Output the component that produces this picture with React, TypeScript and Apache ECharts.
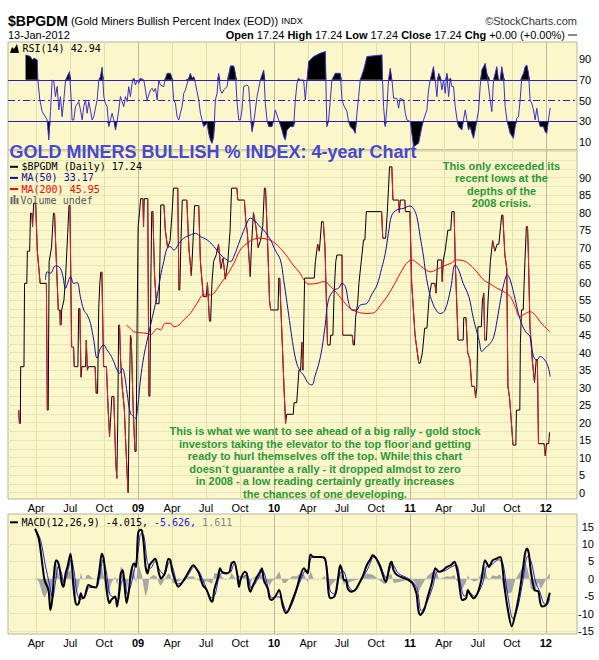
import React, { useEffect, useRef } from "react";
import * as echarts from "echarts";

// x values are months counted from Jan 2008 (12 = Jan 2009, 48 = Jan 2012)
const bpgdm: [number, number][] = [
  [1.45,23.6],[1.52,19.8],[1.6,19.8],[1.63,36],[1.92,36],[1.97,59.8],[2.17,59.8],[2.22,69],[2.42,69],[2.5,79.8],[2.62,79.8],[2.68,76],[2.78,82.7],[2.95,82.7],[3.1,69],[3.35,59.8],[3.9,59.8],[3.98,23.6],[4.06,23.6],[4.14,66],[4.35,70],[4.52,79.8],[4.62,79.8],[4.78,66],[4.95,52.2],[5.08,52.2],[5.12,47.9],[5.2,47.9],[5.25,52.2],[5.45,55],[5.6,62],[5.78,74],[5.9,82.1],[5.98,82.1],[6.13,41.6],[6.3,41.6],[6.36,36],[6.68,36],[6.75,52.6],[6.85,52.6],[6.96,33],[7.03,36],[7.36,36],[7.42,43.6],[7.52,35],[7.62,36],[8.2,36],[8.3,28.4],[8.42,28.4],[8.52,52.6],[8.62,60],[8.7,63],[8.8,63],[8.95,36],[9.2,36],[9.35,24],[9.48,16],[9.55,20],[9.68,27.5],[9.85,27.5],[10.02,9],[10.12,4.1],[10.2,20],[10.28,47.9],[10.36,47.9],[10.45,38],[10.6,30],[10.78,24],[10.92,13],[11.05,4],[11.12,0],[11.22,26],[11.32,45],[11.4,43.6],[11.55,25],[11.72,11.8],[11.82,11.8],[11.9,45],[12.0,76],
  [12.12,80],[12.22,84],[12.42,84],[12.48,76],[12.54,84],[12.85,84],[12.95,27.6],[13.04,27.6],[13.12,60],[13.2,80.3],[13.3,80.3],[13.45,62],[13.62,54],[13.85,54],[13.92,66],[14.0,82.2],[14.28,82.2],[14.4,75],[14.6,70],[14.82,72],[15.0,80],[15.12,87],[15.5,87],[15.6,57.9],[15.68,57.9],[15.78,72],[15.9,83.6],[16.3,83.6],[16.48,70],[16.7,62],[16.88,74],[16.98,82],[17.35,82],[17.5,66],[17.75,56],[18.02,56],[18.12,60],[18.3,49],[18.4,49],[18.52,60],[18.66,66],[18.9,68],[19.1,71],[19.3,64],[19.5,67],[19.7,61],[19.92,66],[20.12,75],[20.25,87],[20.72,87],[20.8,83.6],[21.38,83.6],[21.5,78],[21.65,74],[21.9,61.7],[22.0,70],[22.18,80],[22.4,76],[22.6,70],[22.8,72],[23.0,76],[23.15,87],[23.25,87],[23.45,70],[23.6,55],[23.7,52.2],[24.35,52.2],[24.42,61.3],[24.5,61.3],[24.7,45],[24.88,30],[25.02,19.8],[25.12,22.4],[25.7,22.4],[25.76,25.7],[26.0,25.7],[26.2,35],
  [26.35,35],[26.45,43],[26.55,35],[26.7,61.3],[27.55,61.3],[27.65,66],[27.85,71],[28.0,69],[28.2,77.4],[28.35,77.4],[28.5,70],[28.62,55],[28.72,42.2],[28.95,42.2],[29.0,45],[29.2,45],[29.3,57],[29.45,66],[29.55,67.9],[30.0,67.9],[30.06,45],[30.9,45],[31.0,42.2],[31.1,42.2],[31.2,50],[31.38,54],[31.5,60],[31.7,66],[31.9,72.2],[32.02,72.2],[32.15,80.3],[33.5,80.3],[33.6,72.7],[33.85,72.7],[34.0,80],[34.2,93.1],[34.4,93.1],[34.5,83.6],[35.0,83.6],[35.06,80],[35.15,83.6],[35.55,83.6],[35.6,80.3],[36.0,80.3],[36.15,60],[36.45,45],[36.78,37],[36.9,37],[37.1,40],[37.3,47],[37.5,47],
  [37.7,56],[37.9,59.8],[38.2,59.8],[38.3,57],[38.45,66.5],[38.8,66.5],[38.85,60.3],[38.95,66.5],[39.1,69],[39.35,75],[39.6,75],[39.7,80.3],[39.9,80.3],[40.0,66],[40.25,43.6],[40.7,43.6],[40.75,50],[40.95,50],[41.1,40],[41.3,38],[41.45,30.4],[41.7,30.4],[41.8,27.1],[41.9,30],[42.0,47.4],[42.3,47.4],[42.4,55],[42.52,57],[42.6,43.6],[42.75,43.6],[42.9,55],[43.1,66],[43.3,72],[43.5,69],[43.7,71],[43.85,71],[44.0,76],[44.1,79.3],[44.2,79.3],[44.38,68],[44.55,64],[44.65,30.4],[44.8,27],[45.1,13.6],[45.35,13.6],[45.4,23.6],[45.7,23.6],[45.75,42.7],[45.85,52.2],[46.0,52.2],[46.15,66],[46.28,76],[46.38,76],[46.45,69],[46.6,47.4],[46.8,38],[47.0,31.5],[47.05,31.5],[47.15,38],[47.25,38],[47.35,14],[47.85,14],[47.95,10.5],[48.05,14],[48.25,14],[48.32,17.24]
];

const ma50: [number, number][] = [
  [3.82,60.8],[3.97,63.1],[4.26,62.7],[4.7,64.8],[5.0,64.6],[5.29,62.7],[5.6,58.4],[5.73,59.4],[6.03,61.7],[6.32,59.8],[6.61,60],[6.9,56],[7.2,52.2],[7.5,50.8],[7.79,48.4],[8.08,43.6],[8.38,38.4],[8.67,41.2],[8.97,42.2],[9.26,40.7],[9.56,39.4],[9.85,37.4],[10.15,35],[10.38,34.1],[10.6,35.5],[10.8,33.6],[11.03,28.4],[11.32,22.7],[11.61,21.7],[11.76,21.2],[11.97,24.6],[12.2,32.2],[12.5,38.9],[12.8,43.6],[13.1,47.9],[13.4,52.2],[13.7,56.5],[13.97,61.7],[14.26,66],[14.56,69.8],[14.85,70.3],[15.15,69.3],[15.6,71.2],[16.03,72.7],[16.6,73.6],[17.06,74.1],[17.5,73.2],[18.1,72.2],[18.7,70.3],[19.3,67.9],[19.85,66.5],[20.15,66],[20.44,67.4],[21.0,72.2],[21.6,77],[21.9,78.4],[22.2,77.9],[22.5,77],[22.8,75.8],[23.1,75],[23.4,73.6],[23.7,72.2],[24.1,69.3],[24.56,66.5],[24.85,60.8],[25.15,54.1],[25.44,47.4],[25.7,41.7],[26.0,37],[26.26,35],[26.6,33.6],[27.05,31.2],[27.35,30.8],[27.6,33.1],[28.1,38.9],[28.5,47.4],[28.8,55],[29.3,57.9],[29.7,58.4],[30.0,59.8],[30.3,58.9],[30.6,54.1],[30.9,52.2],[31.3,52.2],[31.6,53.6],[32.2,54.1],[32.6,56.5],[33.1,59.4],[33.5,64.1],[33.8,68],[34.1,74.1],[34.4,79.3],[34.85,80.8],[35.4,81.2],[36.0,81.9],[36.3,81.2],[36.6,78.9],[36.9,73.2],[37.2,67.4],[37.35,63.6],[37.6,58.9],[37.9,55.1],[38.4,51.7],[38.7,51.2],[39.1,52.2],[39.6,58.4],[40.0,65.1],[40.3,63.6],[40.7,59.8],[41.2,56],[41.6,49.8],[42.1,43.6],[42.35,40.3],[42.6,41.2],[43.1,42.7],[43.4,44.6],[43.7,49.3],[44.0,55.1],[44.3,59.8],[44.6,62.2],[44.85,60.8],[45.3,55.1],[45.7,49.8],[46.2,46],[46.6,44.6],[46.9,39],[47.2,37.9],[47.5,38.9],[47.9,37.9],[48.2,36],[48.38,33.17]
];

const ma200: [number, number][] = [
  [10.97,47.9],[11.32,46.9],[11.61,46],[12.2,45.7],[12.8,45.5],[13.1,45.1],[13.4,46],[13.7,46.9],[13.97,46.5],[14.4,48.4],[14.85,48.4],[15.15,47.4],[15.6,47.9],[16.0,49.3],[16.6,51.2],[17.2,54.1],[17.8,56.5],[18.4,56.5],[18.7,57],[19.3,59.8],[19.85,62.2],[20.3,64.6],[20.6,66.5],[21.0,69.3],[21.6,71.2],[22.2,72.4],[22.8,72.7],[23.4,72.4],[24.0,71.5],[24.56,69.8],[25.15,67.5],[25.7,65],[26.3,62.7],[26.6,61],[27.05,59.6],[27.8,59.8],[28.4,60.3],[29.0,58.9],[29.55,57],[30.15,54.6],[30.7,52.7],[31.3,51.7],[32.2,51.2],[32.8,51.4],[33.4,53.6],[33.97,56],[34.6,59.4],[35.15,62.7],[35.7,65.5],[36.17,66.5],[36.6,65.7],[37.2,64.1],[37.8,63.1],[38.4,63.8],[39.0,64.8],[39.6,65.5],[40.1,66.5],[40.7,66.3],[41.3,65.1],[41.9,63.1],[42.5,60.8],[43.1,59.6],[43.7,58.4],[44.3,57.4],[44.85,56],[45.3,53.1],[45.7,50.3],[46.2,51.2],[46.6,51.7],[47.05,50.8],[47.5,48.8],[47.9,47.4],[48.38,45.95]
];

const rsi14: [number, number][] = [
  [2.06,94],[2.5,92.4],[2.64,89.2],[2.79,90.8],[3.09,89.2],[3.14,70.6],[3.32,50.7],[3.53,39.5],[3.97,31.5],[4.11,12.2],[4.26,39.5],[4.41,69.9],[4.56,68.3],[4.7,53.9],[4.85,63.5],[5.0,41.1],[5.14,53.9],[5.29,34.7],[5.44,50.7],[5.59,69.9],[5.73,73.1],[5.94,77.9],[6.09,50.7],[6.17,31.5],[6.32,31.5],[6.47,44.3],[6.76,49.1],[6.91,41.1],[7.06,31.5],[7.2,44.3],[7.35,50.7],[7.5,37.9],[7.64,49.1],[7.79,41.1],[7.94,31.5],[8.08,34.7],[8.38,50.7],[8.53,69.9],[8.67,73.1],[8.82,82.1],[8.97,53.9],[9.11,47.5],[9.26,44.3],[9.41,25.1],[9.56,31.5],[9.7,37.9],[9.85,31.5],[10.0,21.8],[10.14,29.9],[10.29,41.1],[10.44,53.9],[10.73,44.3],[10.88,53.9],[11.03,49.1],[11.17,63.5],[11.32,53.9],[11.47,66.7],[11.61,71.5],[11.76,65.1],[11.91,69.9],[12.06,66.7],[12.2,71.5],[12.35,70.6],[12.5,69.9],[12.79,50.7],[12.94,55.5],[13.09,60.3],[13.24,61.9],[13.38,58.7],[13.53,61.9],[13.68,50.7],[13.82,69.9],[13.97,65.1],[14.26,63.5],[14.41,71.5],[14.56,76.3],[14.85,76.3],[15.0,71.5],[15.14,50.7],[15.29,47.5],[15.44,34.7],[15.59,31.5],[15.73,37.9],[15.88,44.3],[16.03,57.1],[16.17,60.3],[16.47,71.5],[16.61,76.3],[16.76,71.5],[16.91,73.1],[17.06,66.7],[17.2,58.7],[17.35,50.7],[17.5,37.9],[17.64,31.5],[17.79,25.1],[18.09,28.3],[18.23,18.6],[18.38,12.2],[18.53,9],[18.67,15.4],[18.82,50.7],[18.97,57.1],[19.11,76.3],[19.26,60.3],[19.41,57.1],[19.56,60.3],[19.85,63.5],[20.15,83.4],[20.44,83.4],[20.59,76.3],[20.73,49.1],[20.88,31.5],[21.03,31.5],[21.17,41.1],[21.32,63.5],[21.61,65.1],[21.76,63.5],[21.91,41.1],[22.06,20.2],[22.2,28.3],[22.35,41.1],[22.5,53.9],[22.79,69.9],[23.09,79.5],[23.23,47.5],[23.38,31.5],[23.53,25.1],[23.82,25.1],[23.97,31.5],[24.11,41.1],[24.41,31.5],[24.56,26.7],[24.7,21.8],[24.85,15.4],[25.0,12.2],[25.14,21.8],[25.44,25.1],[25.73,25.1],[25.88,50.7],[26.03,66.7],[26.17,71.5],
  [26.32,69.9],[26.61,69.9],[26.76,50.7],[26.91,69.9],[27.06,87.6],[27.5,92.4],[28.08,95.6],[28.53,97.2],[28.61,50.7],[28.67,25.1],[28.82,31.5],[28.97,50.7],[29.11,69.9],[29.41,76.3],[29.85,76.3],[30.0,50.7],[30.14,45.9],[30.44,39.5],[30.58,29.9],[30.73,25.1],[31.03,21.8],[31.17,18.6],[31.32,37.9],[31.47,53.9],[31.61,69.9],[31.91,79.5],[32.06,85.9],[32.2,92.4],[33.53,94],[33.58,69.9],[33.67,44.3],[33.82,25.1],[33.97,44.3],[34.11,69.9],[34.26,81.1],[34.41,69.9],[34.56,52.3],[34.85,52.3],[35.0,42.7],[35.14,52.3],[35.44,50.7],[35.59,37.9],[35.73,31.5],[36.03,29.9],[36.32,5.8],[36.76,9],[37.06,25.1],[37.2,31.5],[37.5,41.1],[37.64,60.3],[37.79,69.9],[37.94,76.3],[38.08,82.7],[38.23,69.9],[38.38,53.9],[38.53,76.3],[38.67,73.1],[38.82,60.3],[38.97,69.9],[39.11,57.1],[39.26,76.3],[39.41,53.9],[39.56,71.5],[39.7,63.5],[39.85,63.5],[40.0,44.3],[40.14,33.1],[40.29,25.1],[40.58,21.8],[40.73,31.5],[40.88,41.1],[41.03,31.5],[41.17,21.8],[41.32,25.1],[41.47,18.6],[41.61,13.8],[41.76,21.8],[41.91,31.5],[42.06,41.1],[42.2,63.5],[42.35,79.5],[42.5,82.7],[42.64,85.9],[42.79,76.3],[43.08,50.7],[43.23,39.5],[43.38,69.9],[43.53,76.3],[43.67,82.7],[43.82,69.9],[43.97,69.9],[44.11,82.7],[44.26,73.1],[44.41,44.3],[44.56,31.5],[44.7,25.1],[44.85,18.6],[45.14,13.8],[45.29,25.1],[45.44,33.1],[45.58,34.7],[45.73,50.7],[45.88,73.1],[46.03,76.3],[46.17,82.7],[46.32,84.3],[46.47,76.3],[46.61,50.7],[46.76,47.5],[46.91,41.1],[47.05,31.5],[47.2,42.7],[47.35,31.5],[47.5,25.1],[47.79,25.1],[47.94,20.2],[48.08,18.6],[48.23,31.5],[48.38,42.94]
];

const macdLine: [number, number][] = [
  [2.9,14.4],[3.24,11.4],[3.57,3.4],[3.74,-0.4],[4.08,-3.2],[4.25,-9],[4.41,-6.1],[4.58,1.5],[4.75,5.3],[4.92,4.9],[5.09,2.5],[5.26,-1.3],[5.42,-2.3],[5.59,1.5],[5.76,3.4],[6.03,7.2],[6.27,-1.3],[6.43,-6.1],[6.6,-7.5],[6.77,-7],[6.94,-4.2],[7.11,-5.6],[7.28,-5.1],[7.44,-3.2],[7.61,-1.8],[7.95,-2.3],[8.29,-2.5],[8.45,-0.4],[8.62,3.4],[8.79,7.2],[8.96,5.8],[9.13,-0.4],[9.3,-5.1],[9.46,-7],[9.63,-6.1],[9.97,-5.1],[10.14,-8],[10.31,-4.2],[10.47,1.5],[10.64,2.5],[10.81,-2.3],[10.98,-7],[11.15,-4.2],[11.32,0.6],[11.48,3.4],[11.65,4.4],[11.82,3.4],[11.99,13],[12.16,14.1],[12.33,13.9],[12.49,10.1],[12.66,3.4],[12.83,1.5],[13.0,3.9],[13.34,5.3],[13.51,5.8],[13.67,4.4],[13.84,1.5],[14.01,0.1],[14.35,1.5],[14.68,5.8],[14.85,5.3],[15.02,2],[15.36,-1.3],[15.53,-2.3],[16.03,-0.4],[16.37,1.5],[16.87,3.9],[17.04,3.4],[17.38,1.5],[17.71,-1.8],[18.05,-3.2],[18.39,-6.1],[18.56,-6.6],[18.72,-3.2],[19.06,0.6],[19.23,3],[19.4,2],[19.73,1.5],[20.07,2],[20.24,4.4],[20.47,4.9],[20.74,1.5],[20.91,-2.3],[21.08,0.1],[21.42,2],[21.59,1.5],[21.75,-2.3],[21.92,-3.7],[22.09,-2.3],[22.43,0.1],[22.76,2],[22.93,3],[23.1,-0.4],[23.44,-2.8],[23.61,-5.6],[23.77,-6.1],[24.11,-5.1],[24.45,-3.2],[24.78,-8],[25.05,-9.9],[25.29,-9],[25.63,-6.1],[25.96,-3.2],[26.3,0.6],[26.64,3],[26.97,1.5],[27.21,7],[27.48,6.3],[28.15,6.3],[28.49,5.8],[28.66,2.5],[28.82,-4.2],[28.99,-5.6],[29.33,-5.1],[29.5,-3.2],[29.67,0.6],[29.84,3.9],[30.0,2.5],[30.17,-0.4],[30.34,-0.4],[30.51,-2.8],[30.84,-3.7],[31.18,-3.2],[31.52,-1.3],[31.86,1],[32.19,3.9],[32.53,5.8],[32.7,6.8],[33.03,5.8],[33.37,3.4],[33.71,0.1],[33.88,-0.9],[34.04,1],[34.21,3.9],[34.38,4.9],[34.55,2.5],[34.89,1],[35.56,0.1],[35.9,-0.4],[36.23,-1.3],[36.57,-4.2],[36.74,-9],[36.91,-10.4],[37.24,-9],[37.58,-5.1],[37.92,-1.3],[38.25,3],[38.59,2],[38.93,2.5],[39.26,3.4],[39.6,3.9],[39.94,4.9],[40.1,3.4],[40.27,0.6],[40.44,-3.7],[40.61,-6.1],[40.95,-5.6],[41.11,-3.2],[41.28,-4.2],[41.62,-5.6],[41.96,-4.2],[42.3,-0.4],[42.63,5.3],[42.8,4.4],[42.97,3.4],[43.3,5.3],[43.64,5.8],[43.98,6.3],[44.15,3.9],[44.31,-1.3],[44.65,-9],[44.99,-13.7],[45.32,-9.9],[45.66,-4.2],[46.0,3.4],[46.16,7.2],[46.33,8.7],[46.5,7.2],[46.66,2.5],[47.0,-3.2],[47.34,-3.7],[47.51,-7],[47.68,-8],[48.02,-7.5],[48.18,-6.1],[48.35,-4.015]
];

const macdSignal: [number, number][] = [
  [3.0,14],[3.4,11],[3.8,4],[4.2,-2],[4.45,-5.5],[4.7,-1],[4.95,3.5],[5.2,2],[5.45,-1],[5.7,1],[6.1,5.5],[6.35,2],[6.6,-4],[6.9,-6],[7.3,-5],[7.7,-2.5],[8.3,-2.5],[8.6,0.5],[8.9,5.5],[9.2,2],[9.5,-4.5],[9.9,-5.5],[10.2,-6.5],[10.5,-1.5],[10.75,0.5],[11.05,-4.5],[11.35,-2],[11.7,3],[12.0,8],[12.25,13],[12.5,12.5],[12.8,5],[13.1,3],[13.5,5],[13.9,2.5],[14.3,1.2],[14.75,4.8],[15.1,2.8],[15.5,-1.5],[16.0,-0.8],[16.5,1.5],[16.95,3.5],[17.4,2],[17.8,-1],[18.5,-5.5],[18.8,-4.5],[19.2,1],[19.6,1.8],[20.1,1.8],[20.5,4.5],[20.9,0.5],[21.2,0.5],[21.6,1.2],[22.0,-2.8],[22.5,-0.5],[23.0,2.3],[23.4,-1.5],[23.8,-5.5],[24.2,-5.2],[24.6,-5.5],[25.15,-9.5],[25.6,-7.2],[26.1,-2.5],[26.7,2.2],[27.0,2.5],[27.35,6.2],[28.2,6.3],[28.6,4.5],[28.95,-3.5],[29.4,-4.5],[29.8,1.5],[30.1,2.2],[30.6,-2.2],[31.0,-3.5],[31.6,-1],[32.3,3],[32.8,6.2],[33.3,4.5],[33.9,0.3],[34.45,4.2],[35.0,1.5],[35.9,0],[36.6,-2.5],[37.0,-9.3],[37.4,-7.5],[38.0,-2.5],[38.4,2],[39.0,2.2],[39.7,3.5],[40.1,4],[40.5,-2],[40.8,-5],[41.2,-4],[41.7,-5],[42.4,-1.5],[42.8,3.8],[43.2,4],[43.8,5.5],[44.2,4.5],[44.6,-4],[45.1,-11.5],[45.5,-8.5],[45.9,-2],[46.4,6.5],[46.7,5],[47.1,-1],[47.5,-4],[47.8,-7],[48.1,-7.5],[48.35,-5.626]
];

const quarterTicks = [3, 6, 9, 12, 15, 18, 21, 24, 27, 30, 33, 36, 39, 42, 45, 48];
const monthLabels: Record<number, string> = { 3: "Apr", 6: "Jul", 9: "Oct" };
const priceLabels = [0, 5, 10, 15, 20, 25, 30, 35, 40, 45, 50, 55, 60, 65, 70, 75, 80, 85, 90];
const priceGridLines = [0, 2.5, 5, 7.5, 10, 12.5, 15, 17.5, 20, 22.5, 25, 27.5, 30, 32.5, 35, 37.5, 40, 42.5, 45, 47.5, 50, 52.5, 55, 57.5, 60, 62.5, 65, 67.5, 70, 72.5, 75, 77.5, 80, 82.5, 85, 87.5, 90, 92.5, 95, 97.5];
const rsiLabels = [10, 30, 50, 70, 90];
const macdLabels = [-15, -10, -5, 0, 5, 10, 15];

const noteTop = ["This only exceeded its", "recent lows at the", "depths of the", "2008 crisis."];
const noteBottom = [
  "This is what we want to see ahead of a big rally - gold stock",
  "investors taking the elevator to the top floor and getting",
  "ready to hurl themselves off the top. While this chart",
  "doesn\u00b4t guarantee a rally - it dropped almost to zero",
  "in 2008 - a low reading certainly greatly increases",
  "the chances of one developing.",
];

const SANS = "Liberation Sans";
const MONO = "DejaVu Sans Mono";
const PANEL_BG = "#fcf6cb";
const BORDER = "#b7b596";
const QLINE = "#dde2ad";
const YLINE = "#bdb99a";
const HLINE = "#e4e7b9";
const GREEN = "#2b9a36";

function interp(series: [number, number][], m: number): number {
  if (m <= series[0][0]) return series[0][1];
  for (let i = 1; i < series.length; i++) {
    if (m <= series[i][0]) {
      const [x0, y0] = series[i - 1];
      const [x1, y1] = series[i];
      return y0 + ((y1 - y0) * (m - x0)) / (x1 - x0);
    }
  }
  return series[series.length - 1][1];
}

export default function App() {
  const ref = useRef<HTMLDivElement>(null);
  useEffect(() => {
    if (!ref.current) return;
    const chart = echarts.init(ref.current, null, { renderer: "svg", width: 599, height: 660 });

    const downSegments: any[] = [];
    for (let i = 1; i < bpgdm.length; i++) {
      if (bpgdm[i][1] < bpgdm[i - 1][1]) downSegments.push({ coords: [bpgdm[i - 1], bpgdm[i]] });
    }
    const rsiHigh = rsi14.map(([m, v]) => [m, Math.max(v, 70)]);
    const rsiLow = rsi14.map(([m, v]) => [m, Math.min(v, 30)]);
    const macdHist = macdLine.map(([m, v]) => [m, +(v - interp(macdSignal, m)).toFixed(2)]);

    const xLabelFmt = (v: number) => {
      const r = Math.round(v) % 12;
      if (r === 0) return "{y|" + String(8 + Math.round(v) / 12).padStart(2, "0") + "}";
      return monthLabels[r] || "";
    };
    const mkX = (gridIndex: number, showLabels: boolean) => ({
      type: "value",
      gridIndex,
      min: 0.51,
      max: 50.75,
      axisLine: { show: false },
      axisTick: { show: false, customValues: quarterTicks },
      axisLabel: {
        show: showLabels,
        customValues: quarterTicks,
        formatter: xLabelFmt,
        margin: 3,
        color: "#000",
        fontSize: 11,
        fontFamily: SANS,
        rich: { y: { fontWeight: "bold", fontSize: 11, fontFamily: SANS, color: "#000" } },
      },
      splitLine: { show: true, lineStyle: { color: [QLINE, QLINE, QLINE, YLINE], width: 1 } },
    });
    const yLabel = (extra: any = {}) => ({ color: "#000", fontSize: 11, fontFamily: SANS, margin: 2, ...extra });

    const grids = [
      { left: 8, top: 42, width: 569, height: 108 },
      { left: 8, top: 150, width: 569, height: 349 },
      { left: 8, top: 514, width: 569, height: 120 },
    ].map((g) => ({ ...g, show: true, backgroundColor: PANEL_BG, borderColor: BORDER, borderWidth: 1 }));

    const txt = (x: number, y: number, text: string, font: string, fill: string, align = "left", extra: any = {}) => ({
      type: "text",
      x,
      y,
      silent: true,
      z: 100,
      style: { text, font, fill, align, verticalAlign: "middle", textAlign: align, textVerticalAlign: "middle", ...extra },
    });
    const dash = (x1: number, x2: number, y: number, color: string, w = 2) => ({
      type: "line",
      silent: true,
      z: 100,
      shape: { x1, y1: y, x2, y2: y },
      style: { stroke: color, lineWidth: w },
    });

    const graphics: any[] = [
      txt(8, 21, "{t|$BPGDM} {n|(Gold Miners Bullish Percent Index (EOD))} {s|INDX}", `11px ${SANS}`, "#000", "left", {
        rich: {
          t: { font: `bold 14px ${SANS}`, fill: "#000" },
          n: { font: `11px ${SANS}`, fill: "#000" },
          s: { font: `9px ${SANS}`, fill: "#000" },
        },
      }),
      txt(577, 21, "\u00a9StockCharts.com", `11px ${SANS}`, "#333", "right"),
      txt(8, 35, "13-Jan-2012", `11px ${SANS}`, "#000"),
      txt(565, 35, "{b|Open} {n|17.24} {b|High} {n|17.24} {b|Low} {n|17.24} {b|Close} {n|17.24} {b|Chg} {n|+0.00 (+0.00%)}", `11px ${SANS}`, "#000", "right", {
        rich: { b: { font: `bold 11px ${SANS}`, fill: "#000" }, n: { font: `11px ${SANS}`, fill: "#000" } },
      }),
      dash(568, 577, 35, "#888", 2),
      { type: "polygon", silent: true, z: 100, shape: { points: [[10, 53], [12, 47], [14, 49], [17, 44], [19, 53]] }, style: { fill: "#000" } },
      txt(22.5, 48.5, "RSI(14) 42.94", `10px ${MONO}`, "#000"),
      txt(9.5, 151.7, "GOLD MINERS BULLISH % INDEX: 4-year Chart", `bold 18px ${SANS}`, "#4848d0"),
      dash(10, 18, 166.8, "#000"),
      txt(21.5, 166.8, "$BPGDM (Daily) 17.24", `10px ${MONO}`, "#000"),
      dash(10, 18, 177.9, "#10109a"),
      txt(21.5, 177.9, "MA(50) 33.17", `10px ${MONO}`, "#10109a"),
      dash(10, 18, 189, "#ff0000"),
      txt(21.5, 189, "MA(200) 45.95", `10px ${MONO}`, "#ff0000"),
      { type: "rect", silent: true, z: 100, shape: { x: 10.5, y: 197, width: 2, height: 7 }, style: { fill: "#666" } },
      { type: "rect", silent: true, z: 100, shape: { x: 13.5, y: 195, width: 2, height: 9 }, style: { fill: "#666" } },
      { type: "rect", silent: true, z: 100, shape: { x: 16.5, y: 198, width: 2, height: 6 }, style: { fill: "#666" } },
      txt(20.5, 200, "Volume undef", `10px ${MONO}`, "#555"),
      dash(10, 18, 522.3, "#000"),
      txt(21.5, 522.3, "{k|MACD(12,26,9) -4.015,}{b| -5.626,}{g| 1.611}", `10px ${MONO}`, "#000", "left", {
        rich: {
          k: { font: `10px ${MONO}`, fill: "#000" },
          b: { font: `10px ${MONO}`, fill: "#2222dd" },
          g: { font: `10px ${MONO}`, fill: "#888" },
        },
      }),
    ];
    noteTop.forEach((s, i) => graphics.push(txt(501.5, 165.5 + i * 12.5, s, `bold 11px ${SANS}`, GREEN, "center")));
    noteBottom.forEach((s, i) => graphics.push(txt(325, 431.2 + i * 12.5, s, `bold 11px ${SANS}`, GREEN, "center")));

    chart.setOption({
      animation: false,
      backgroundColor: "#ffffff",
      grid: grids,
      xAxis: [mkX(0, false), mkX(1, true), mkX(2, true)],
      yAxis: [
        {
          type: "value", gridIndex: 0, position: "right", min: 2.6, max: 106.4,
          axisLine: { show: false }, axisTick: { show: false, customValues: rsiLabels },
          axisLabel: yLabel({ customValues: rsiLabels }),
          splitLine: { show: false },
        },
        {
          type: "value", gridIndex: 1, position: "right", min: -1.8, max: 97.9,
          axisLine: { show: false }, axisTick: { show: false, customValues: priceGridLines },
          axisLabel: yLabel({ customValues: priceLabels }),
          splitLine: { show: true, lineStyle: { color: HLINE, width: 1 } },
        },
        {
          type: "value", gridIndex: 2, position: "right", min: -15.9, max: 18.65,
          axisLine: { show: false }, axisTick: { show: false, customValues: macdLabels },
          axisLabel: yLabel({ customValues: macdLabels, align: "right", margin: 17 }),
          splitLine: { show: true, lineStyle: { color: HLINE, width: 1 } },
        },
      ],
      series: [
        {
          type: "line", xAxisIndex: 0, yAxisIndex: 0, data: rsiHigh, showSymbol: false, z: 2,
          lineStyle: { width: 0, opacity: 0 }, areaStyle: { origin: 70, color: "#000", opacity: 1 },
        },
        {
          type: "line", xAxisIndex: 0, yAxisIndex: 0, data: rsiLow, showSymbol: false, z: 2,
          lineStyle: { width: 0, opacity: 0 }, areaStyle: { origin: 30, color: "#000", opacity: 1 },
        },
        {
          type: "line", xAxisIndex: 0, yAxisIndex: 0, data: rsi14, showSymbol: false, z: 3,
          lineStyle: { color: "#3c30c8", width: 1 },
          markLine: {
            silent: true, symbol: ["none", "none"], label: { show: false },
            lineStyle: { color: "#2a1ec4", width: 1, type: "solid" },
            data: [
              { yAxis: 70 },
              { yAxis: 30 },
              { yAxis: 50, lineStyle: { type: [7, 3, 2, 3], color: "#2a1ec4", width: 1 } },
            ],
          },
        },
        {
          type: "line", xAxisIndex: 1, yAxisIndex: 1, data: bpgdm, showSymbol: false, z: 3,
          lineStyle: { color: "#000", width: 1 },
        },
        {
          type: "lines", coordinateSystem: "cartesian2d", xAxisIndex: 1, yAxisIndex: 1, data: downSegments, z: 4,
          lineStyle: { color: "#e4183a", width: 1, opacity: 1, curveness: 0 },
        },
        {
          type: "line", xAxisIndex: 1, yAxisIndex: 1, data: ma200, showSymbol: false, smooth: 0.4, z: 5,
          lineStyle: { color: "#ff0000", width: 1 },
        },
        {
          type: "line", xAxisIndex: 1, yAxisIndex: 1, data: ma50, showSymbol: false, smooth: 0.4, z: 6,
          lineStyle: { color: "#10109a", width: 1 },
        },
        {
          type: "line", xAxisIndex: 2, yAxisIndex: 2, data: macdHist, showSymbol: false, z: 2,
          lineStyle: { width: 0, opacity: 0 }, areaStyle: { color: "#a6a6a6", opacity: 1 },
        },
        {
          type: "line", xAxisIndex: 2, yAxisIndex: 2, data: macdSignal, showSymbol: false, smooth: 0.3, z: 3,
          lineStyle: { color: "#2020e0", width: 1 },
        },
        {
          type: "line", xAxisIndex: 2, yAxisIndex: 2, data: macdLine, showSymbol: false, smooth: 0.3, z: 4,
          lineStyle: { color: "#000", width: 2 },
        },
      ],
      graphic: graphics,
    });
    return () => chart.dispose();
  }, []);
  return <div ref={ref} style={{ position: "absolute", left: 0, top: 0, width: 599, height: 660 }} />;
}
